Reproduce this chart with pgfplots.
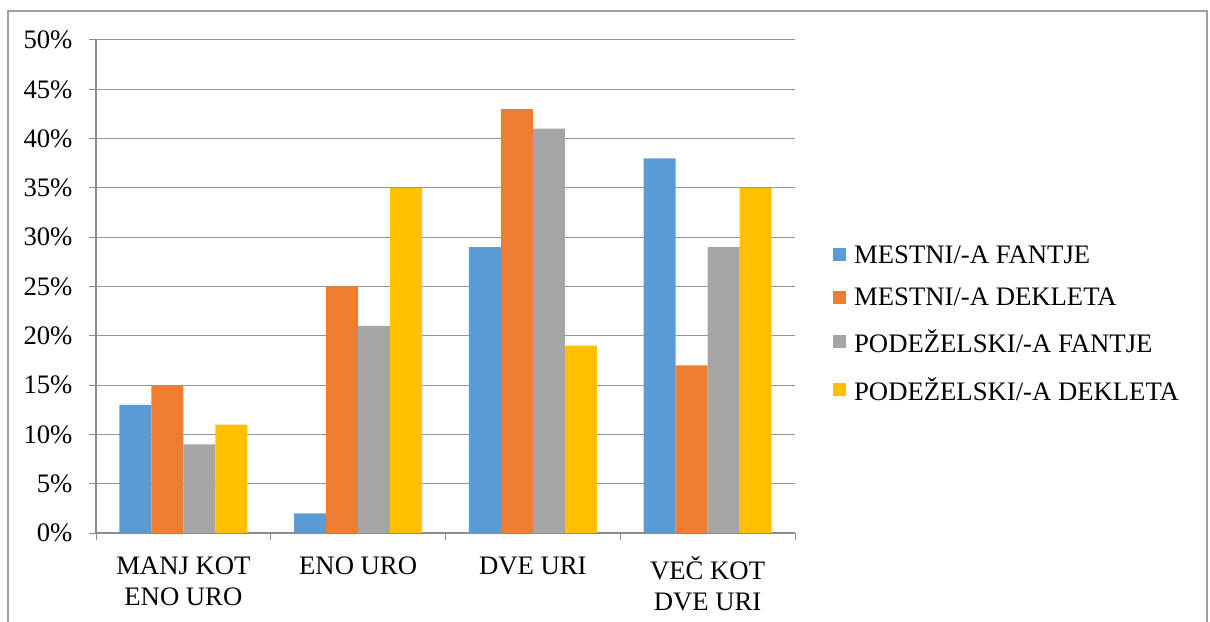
\documentclass[border=0pt]{standalone}
\usepackage{fontspec}
\setmainfont{Liberation Serif}
\usepackage{pgfplots}
\pgfplotsset{compat=1.18}
\definecolor{cblue}{HTML}{5B9BD5}
\definecolor{corange}{HTML}{ED7D31}
\definecolor{cgray}{HTML}{A5A5A5}
\definecolor{cyellow}{HTML}{FFC000}
\definecolor{frame}{HTML}{A0A0A0}
\definecolor{axisc}{HTML}{8C8C8C}
\definecolor{gridc}{HTML}{959595}
\begin{document}
\begin{tikzpicture}
\useasboundingbox (0bp,0bp) rectangle (1210bp,622bp);
\draw[color=frame, line width=1.2bp] (8bp,-2bp) -- (8bp,611bp) -- (1207bp,611bp) -- (1207bp,-2bp);
\begin{axis}[
  at={(96bp,89bp)}, anchor=south west,
  scale only axis, width=699bp, height=493bp,
  ybar=0pt, bar width=32bp,
  xmin=-0.5, xmax=3.5, ymin=0, ymax=50,
  axis x line*=bottom, axis y line*=left,
  axis line style={draw=axisc, line width=1.3bp},
  ymajorgrids, grid style={draw=gridc, line width=1bp},
  ytick={0,5,...,50},
  yticklabel={\pgfmathprintnumber{\tick}\%},
  /pgf/number format/assume math mode=true,
  tick align=outside,
  major tick length=7bp,
  tick style={draw=axisc, line width=1bp},
  xtick={-0.5,0.5,1.5,2.5,3.5},
  xticklabels={},
  extra x ticks={0,1,2,3},
  extra x tick labels={{MANJ KOT\\ENO URO},{ENO URO},{DVE URI},{VEČ KOT\\DVE URI}},
  extra x tick style={major tick length=0pt, tick style={draw=none}},
  xticklabel style={align=center, font=\fontsize{26.8}{31}\selectfont, yshift=-20bp},
  yticklabel style={font=\fontsize{26.8}{31}\selectfont, xshift=-13bp},
  legend style={at={(1.05,0.425)}, anchor=west, draw=none, fill=none,
    font=\fontsize{26.8}{31}\selectfont, row sep=19bp, column sep=6bp},
  legend cell align=left,
  legend image code/.code={\fill[#1,draw=none] (0bp,-6.5bp) rectangle (13bp,6.5bp);},
]
\addplot[fill=cblue, draw=none] coordinates {(0,13) (1,2) (2,29) (3,38)};
\addplot[fill=corange, draw=none] coordinates {(0,15) (1,25) (2,43) (3,17)};
\addplot[fill=cgray, draw=none] coordinates {(0,9) (1,21) (2,41) (3,29)};
\addplot[fill=cyellow, draw=none] coordinates {(0,11) (1,35) (2,19) (3,35)};
\legend{MESTNI/-A FANTJE, MESTNI/-A DEKLETA, PODEŽELSKI/-A FANTJE, PODEŽELSKI/-A DEKLETA}
\end{axis}
\end{tikzpicture}
\end{document}
